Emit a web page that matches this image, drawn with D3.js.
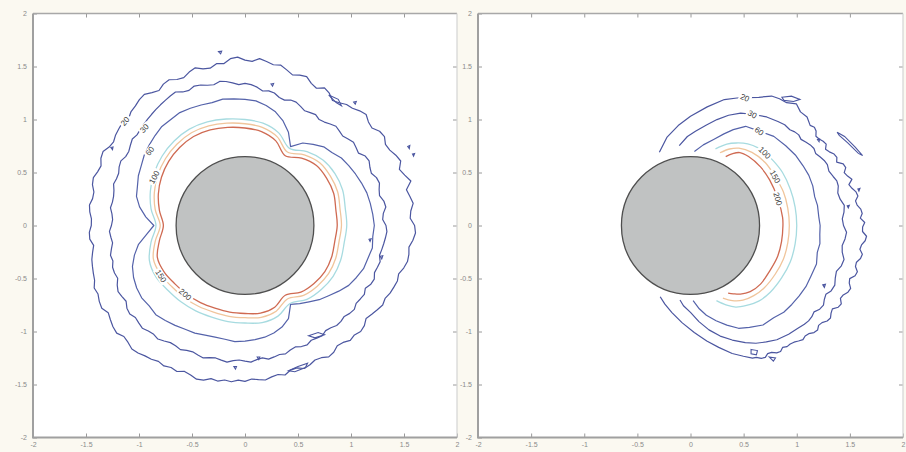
<!DOCTYPE html>
<html>
<head>
<meta charset="utf-8">
<script src="https://cdn.jsdelivr.net/npm/d3@7"></script>
<style>
  html, body { margin: 0; padding: 0; background: #fbf9f1; }
  svg { display: block; }
  .tick text { font-family: "Liberation Sans", Arial, sans-serif; font-size: 7px; fill: #8a8a8a; }
  .clabel { font-family: "Liberation Sans", Arial, sans-serif; font-size: 8px; fill: #3a3a3a; }
</style>
</head>
<body>
<script>
// ---- data ----------------------------------------------------------------
const levels = [20, 30, 60, 100, 150, 200];
const levelColors = ["#4b56a0", "#4b56a0", "#5462aa", "#a7dbe0", "#f0c59c", "#cf6a52"];
const axisTicks = [-2, -1.5, -1, -0.5, 0, 0.5, 1, 1.5, 2];
const cylinderRadius = 0.65;

// Left field: closed contours, radius at equal angular steps from +x, counter-clockwise
const leftR20 = [1.60,1.56,1.57,1.60,1.58,1.56,1.62,1.58,1.55,1.59,1.57,1.54,1.53,1.56,1.55,1.51,1.52,1.55,
                 1.53,1.50,1.49,1.46,1.44,1.48,1.50,1.46,1.48,1.52,1.51,1.49,1.52,1.55,1.54,1.56,1.58,1.55,
                 1.56,1.59,1.58,1.54,1.55,1.52,1.53,1.56,1.54,1.51,1.52,1.55,1.54,1.51,1.53,1.56,1.55,1.53,
                 1.52,1.49,1.51,1.50,1.49,1.47,1.48,1.51,1.50,1.47,1.48,1.50,1.49,1.46,1.46,1.48,1.47,1.45,
                 1.45,1.47,1.47,1.44,1.46,1.48,1.49,1.50,1.51,1.54,1.53,1.55,1.56,1.53,1.55,1.57,1.58,1.55,
                 1.56,1.58,1.57,1.55,1.54,1.52,1.53,1.51,1.52,1.49,1.50,1.52,1.51,1.48,1.49,1.47,1.48,1.46,
                 1.47,1.45,1.46,1.47,1.45,1.44,1.46,1.43,1.43,1.46,1.45,1.43,1.44,1.47,1.46,1.43,1.44,1.47,
                 1.46,1.48,1.47,1.44,1.46,1.48,1.50,1.49,1.51,1.52,1.53,1.52,1.55,1.57,1.57,1.56,1.59,1.61];
const leftR30 = [1.33,1.30,1.31,1.34,1.33,1.30,1.31,1.33,1.32,1.29,1.30,1.32,1.31,1.27,1.28,1.29,1.27,1.25,
                 1.26,1.27,1.25,1.23,1.22,1.24,1.23,1.22,1.24,1.26,1.26,1.24,1.25,1.28,1.29,1.28,1.31,1.33,
                 1.34,1.33,1.35,1.37,1.38,1.36,1.37,1.39,1.40,1.38,1.39,1.42,1.41,1.40,1.39,1.38,1.37,1.36,
                 1.35,1.34,1.33,1.34,1.32,1.30,1.30,1.32,1.31,1.29,1.29,1.30,1.28,1.27,1.27,1.28,1.26,1.25,
                 1.26,1.28,1.27,1.26,1.28,1.30,1.29,1.31,1.31,1.30,1.33,1.35,1.34,1.33,1.36,1.37,1.35,1.36,
                 1.37,1.35,1.34,1.35,1.33,1.31,1.31,1.32,1.30,1.29,1.30,1.31,1.29,1.28,1.29,1.30,1.28,1.27,
                 1.28,1.29,1.27,1.26,1.28,1.27,1.26,1.27,1.25,1.24,1.26,1.27,1.25,1.26,1.27,1.25,1.26,1.28,
                 1.28,1.27,1.29,1.30,1.28,1.29,1.30,1.28,1.31,1.32,1.30,1.31,1.32,1.30,1.31,1.32,1.33,1.34];
const leftR60 = [1.22,1.21,1.20,1.19,1.17,1.15,1.13,1.11,1.07,1.05,1.00,0.95,0.86,0.97,1.05,1.11,1.15,1.18,
                 1.19,1.20,1.21,1.20,1.21,1.22,1.23,1.22,1.22,1.20,1.18,1.16,1.13,1.11,1.08,1.06,1.01,0.94,
                 0.86,0.93,1.02,1.08,1.13,1.16,1.18,1.19,1.18,1.19,1.17,1.15,1.13,1.12,1.10,1.09,1.09,1.10,
                 1.09,1.08,1.07,1.05,1.02,0.97,0.86,0.90,0.94,0.99,1.03,1.08,1.13,1.16,1.19,1.20,1.22,1.21];
const leftR100 = [0.96,0.96,0.98,0.98,0.96,0.91,0.84,0.93,0.98,1.00,1.02,1.04,1.05,1.04,1.02,0.99,0.95,0.90,
                  0.84,0.90,0.96,0.97,0.95,0.94,0.93,0.92,0.92,0.92,0.93,0.91,0.85,0.91,0.94,0.96,0.96,0.95];
const leftR150 = [0.91,0.91,0.93,0.93,0.92,0.87,0.80,0.89,0.94,0.96,0.98,1.00,1.01,1.00,0.98,0.95,0.91,0.86,
                  0.80,0.86,0.92,0.92,0.90,0.89,0.88,0.87,0.87,0.87,0.88,0.86,0.80,0.86,0.89,0.91,0.91,0.90];
const leftR200 = [0.87,0.87,0.89,0.89,0.88,0.83,0.76,0.85,0.90,0.92,0.94,0.96,0.97,0.96,0.94,0.91,0.87,0.82,
                  0.77,0.82,0.88,0.88,0.86,0.85,0.84,0.83,0.83,0.83,0.84,0.82,0.76,0.82,0.85,0.87,0.87,0.86];

// Right field: open arcs as [angle in degrees, radius]
const rightArc20 = [[113,0.75],[105,0.86],[97,0.95],[90,1.03],[82,1.13],[75,1.23],[70,1.28],[67,1.31],[62,1.37],
  [58,1.44],[55,1.46],[52,1.47],[49,1.52],[46,1.49],[43,1.50],[40,1.47],[38.5,1.49],[37,1.48],[35.5,1.45],[34,1.46],
  [32.5,1.48],[31,1.49],[29.5,1.46],[28,1.48],[26.5,1.51],[25,1.52],[23.5,1.50],[22,1.55],[20.5,1.56],[19,1.53],
  [17.5,1.55],[16,1.58],[14.5,1.54],[13,1.56],[11.5,1.59],[10,1.60],[8.5,1.57],[7,1.58],[5.5,1.61],[4,1.62],
  [2.5,1.60],[1,1.64],[-0.5,1.62],[-2,1.62],[-3.5,1.66],[-5,1.65],[-6.5,1.62],[-8,1.61],[-9.5,1.64],[-11,1.63],
  [-12.5,1.60],[-14,1.60],[-15.5,1.63],[-17,1.62],[-18.5,1.58],[-20,1.59],[-21.5,1.62],[-23,1.61],[-24.5,1.58],
  [-26,1.57],[-27.5,1.60],[-29,1.59],[-30.5,1.55],[-32,1.56],[-33.5,1.58],[-35,1.57],[-36.5,1.54],[-38,1.53],
  [-39.5,1.55],[-41,1.54],[-42.5,1.51],[-44,1.50],[-45.5,1.51],[-47,1.49],[-48.5,1.47],[-50,1.46],[-51.5,1.46],
  [-53,1.44],[-54.5,1.46],[-56,1.45],[-57.5,1.42],[-59,1.41],[-60.5,1.43],[-62,1.42],[-63.5,1.39],[-65,1.38],
  [-68,1.33],[-72,1.27],[-77,1.18],[-82,1.10],[-88,1.01],[-95,0.92],[-102,0.84],[-108,0.78],[-113,0.73]];
const rightArc30 = [[98,0.76],[92,0.84],[87,0.89],[81,0.96],[76,1.03],[71,1.10],[66,1.16],[61,1.20],[55,1.25],
  [50,1.28],[47,1.30],[44,1.30],[42,1.32],[40,1.33],[38,1.32],[36,1.34],[34,1.36],[32,1.37],[30,1.36],[28,1.38],
  [26,1.40],[24,1.41],[21.5,1.40],[19,1.42],[17,1.44],[15,1.44],[12.5,1.42],[10,1.43],[7.5,1.46],[5,1.45],
  [2.5,1.43],[0,1.44],[-2.5,1.47],[-5,1.46],[-7.5,1.44],[-10,1.45],[-12.5,1.48],[-15,1.47],[-17.5,1.44],
  [-20,1.45],[-22.5,1.47],[-25,1.46],[-27,1.43],[-29,1.44],[-31,1.46],[-33,1.45],[-35,1.42],[-37,1.43],
  [-39,1.43],[-41,1.42],[-44,1.40],[-48,1.38],[-53,1.35],[-57,1.31],[-61,1.27],[-65,1.22],[-70,1.15],[-75,1.08],
  [-80,1.00],[-85,0.91],[-90,0.82],[-95,0.76],[-98,0.71]];
const rightArc60 = [[87,0.70],[81,0.77],[75,0.84],[70,0.92],[66,0.99],[61,1.07],[54,1.10],[47,1.15],[40,1.17],
  [34,1.19],[28,1.20],[23,1.21],[18,1.21],[13,1.20],[9,1.21],[4,1.21],[0,1.22],[-4,1.22],[-8,1.23],[-12,1.22],
  [-17,1.24],[-23,1.23],[-28,1.23],[-33,1.22],[-38,1.21],[-43,1.20],[-48,1.17],[-54,1.16],[-60,1.11],[-65,1.07],
  [-70,1.00],[-75,0.93],[-80,0.86],[-84,0.79],[-88,0.71]];
const rightArc100 = [[72,0.76],[66,0.84],[61,0.89],[55,0.94],[49,0.97],[44,0.98],[38,0.99],[30,1.00],[20,1.00],
  [10,1.00],[0,1.00],[-10,1.00],[-20,1.00],[-30,0.99],[-40,0.98],[-48,0.96],[-55,0.92],[-61,0.88],[-66,0.82],[-71,0.75]];
const rightArc150 = [[68,0.74],[63,0.81],[58,0.86],[50,0.90],[40,0.92],[30,0.92],[20,0.93],[10,0.93],[0,0.93],
  [-10,0.93],[-20,0.93],[-30,0.92],[-40,0.91],[-48,0.89],[-55,0.86],[-61,0.81],[-66,0.75]];
const rightArc200 = [[63,0.73],[60,0.78],[56,0.83],[50,0.85],[40,0.86],[30,0.86],[17,0.86],[5,0.87],[0,0.87],
  [-10,0.87],[-20,0.87],[-30,0.86],[-40,0.86],[-48,0.84],[-54,0.80],[-58,0.76],[-61,0.73]];

// Small isolated islands of the outermost level, [x, y]
const leftIslands = [
  [[-0.25,1.64],[-0.22,1.645],[-0.23,1.62]],
  [[0.245,1.335],[0.27,1.34],[0.26,1.315]],
  [[1.025,1.165],[1.05,1.17],[1.04,1.145]],
  [[1.535,0.745],[1.555,0.755],[1.55,0.725]],
  [[1.58,0.675],[1.60,0.68],[1.59,0.655]],
  [[-1.265,0.735],[-1.245,0.74],[-1.25,0.715]],
  [[1.17,-0.13],[1.19,-0.125],[1.18,-0.15]],
  [[1.275,-0.29],[1.30,-0.285],[1.29,-0.315]],
  [[0.115,-1.24],[0.14,-1.24],[0.13,-1.265]],
  [[-0.105,-1.33],[-0.08,-1.33],[-0.09,-1.355]],
  [[0.41,-1.37],[0.50,-1.33],[0.59,-1.30],[0.57,-1.34],[0.47,-1.38]],
  [[0.60,-1.04],[0.69,-1.01],[0.75,-1.03],[0.66,-1.06]],
  [[0.79,1.23],[0.88,1.19],[0.91,1.13],[0.86,1.16]]
];
const rightIslands = [
  [[0.86,1.21],[0.95,1.22],[1.03,1.19],[0.97,1.17],[0.88,1.18]],
  [[1.38,0.88],[1.45,0.84],[1.55,0.74],[1.62,0.66],[1.58,0.68],[1.48,0.78],[1.40,0.85]],
  [[1.195,0.81],[1.215,0.815],[1.21,0.79]],
  [[1.575,0.345],[1.595,0.35],[1.585,0.325]],
  [[1.475,0.185],[1.495,0.19],[1.485,0.165]],
  [[1.245,-0.56],[1.27,-0.555],[1.26,-0.585]],
  [[0.57,-1.17],[0.63,-1.18],[0.62,-1.22],[0.57,-1.21]],
  [[0.74,-1.24],[0.80,-1.25],[0.78,-1.28]]
];

// Contour label placement: polar angle (deg) and radius on its line
const leftLabelAngles = [139, 136, 142, 152, 211, 229];
const leftLabelRadii  = [1.50, 1.32, 1.14, 0.97, 0.925, 0.86];
const rightLabelAngles = [67, 61, 54, 44.5, 30, 17];
const rightLabelRadii  = [1.31, 1.20, 1.10, 0.98, 0.92, 0.86];

// ---- drawing -------------------------------------------------------------
const W = 906, H = 452;
const svg = d3.select("body").append("svg").attr("width", W).attr("height", H);

const rad = d => d * Math.PI / 180;
const polarClosed = (radii) => {
  const step = 360 / radii.length;
  return radii.map((r, i) => [r * Math.cos(rad(i * step)), r * Math.sin(rad(i * step))]);
};
const polarOpen = arc => arc.map(([a, r]) => [r * Math.cos(rad(a)), r * Math.sin(rad(a))]);

function panel(left, right, closedSets, openSets, islands, labelAngles, labelRadii) {
  const top = 13.5, bottom = 437.5;
  const x = d3.scaleLinear().domain([-2, 2]).range([left, right]);
  const y = d3.scaleLinear().domain([-2, 2]).range([bottom, top]);
  const g = svg.append("g");

  g.append("rect").attr("x", left).attr("y", top)
    .attr("width", right - left).attr("height", bottom - top).attr("fill", "#ffffff");

  const plot = g.append("g");
  const lineOf = curve => d3.line().x(d => x(d[0])).y(d => y(d[1])).curve(curve);

  // contour lines
  levels.forEach((lv, i) => {
    let pts, curve;
    if (closedSets) {
      pts = polarClosed(closedSets[i]);
      curve = i < 3 ? d3.curveLinearClosed : d3.curveCatmullRomClosed.alpha(0.5);
    } else {
      pts = polarOpen(openSets[i]);
      curve = i < 3 ? d3.curveLinear : d3.curveCatmullRom.alpha(0.5);
    }
    plot.append("path").attr("d", lineOf(curve)(pts))
      .attr("fill", "none").attr("stroke", levelColors[i])
      .attr("stroke-width", i < 3 ? 1.2 : 1.3).attr("stroke-linejoin", "round");
  });

  islands.forEach(pts => {
    plot.append("path").attr("d", lineOf(d3.curveLinearClosed)(pts))
      .attr("fill", "none").attr("stroke", levelColors[0]).attr("stroke-width", 1.1);
  });

  // cylinder cross-section
  plot.append("ellipse")
    .attr("cx", x(0)).attr("cy", y(0))
    .attr("rx", x(cylinderRadius) - x(0)).attr("ry", y(0) - y(cylinderRadius))
    .attr("fill", "#c0c2c2").attr("stroke", "#4e4e4e").attr("stroke-width", 1.3);

  // inline contour labels
  levels.forEach((lv, i) => {
    const a = labelAngles[i], r = labelRadii[i];
    const px = x(r * Math.cos(rad(a))), py = y(r * Math.sin(rad(a)));
    let rot = 90 - a;
    if (rot <= -90) rot += 180;
    if (rot > 90) rot -= 180;
    const lg = plot.append("g").attr("transform", `translate(${px},${py}) rotate(${rot})`);
    const t = lg.append("text").attr("class", "clabel")
      .attr("text-anchor", "middle").attr("dy", "0.35em").text(lv);
    const bb = t.node().getBBox();
    lg.insert("rect", "text").attr("x", bb.x - 1.5).attr("y", bb.y + 0.5)
      .attr("width", bb.width + 3).attr("height", bb.height - 1).attr("fill", "#ffffff");
  });

  // box and ticks
  const fmt = d => String(d);
  const styleAxis = sel => {
    sel.select(".domain").remove();
    sel.selectAll(".tick line").attr("stroke", "#9a9a9a").attr("stroke-width", 1);
  };
  g.append("g").attr("transform", `translate(0,${bottom})`)
    .call(d3.axisBottom(x).tickValues(axisTicks).tickFormat(fmt).tickSizeInner(-4).tickSizeOuter(0).tickPadding(5))
    .call(styleAxis);
  g.append("g").attr("transform", `translate(${left},0)`)
    .call(d3.axisLeft(y).tickValues(axisTicks).tickFormat(fmt).tickSizeInner(-4).tickSizeOuter(0).tickPadding(6))
    .call(styleAxis);
  g.append("g").attr("transform", `translate(0,${top})`)
    .call(d3.axisTop(x).tickValues(axisTicks.slice(1, -1)).tickFormat("").tickSizeInner(-4).tickSizeOuter(0))
    .call(styleAxis);
  g.append("g").attr("transform", `translate(${right},0)`)
    .call(d3.axisRight(y).tickValues(axisTicks.slice(1, -1)).tickFormat("").tickSizeInner(-4).tickSizeOuter(0))
    .call(styleAxis);
  g.selectAll(".tick text").attr("fill", "#8a8a8a");

  g.append("path").attr("d", `M${left},${top}H${right}`).attr("stroke", "#a8a8a8").attr("stroke-width", 1.6);
  g.append("path").attr("d", `M${right},${top}V${bottom}`).attr("stroke", "#d4d4d4").attr("stroke-width", 1.2);
  g.append("path").attr("d", `M${left},${top}V${bottom}H${right}`)
    .attr("fill", "none").attr("stroke", "#a0a0a0").attr("stroke-width", 2);
}

panel(33, 457,
  [leftR20, leftR30, leftR60, leftR100, leftR150, leftR200], null,
  leftIslands, leftLabelAngles, leftLabelRadii);
panel(478, 903,
  null, [rightArc20, rightArc30, rightArc60, rightArc100, rightArc150, rightArc200],
  rightIslands, rightLabelAngles, rightLabelRadii);
</script>
</body>
</html>
